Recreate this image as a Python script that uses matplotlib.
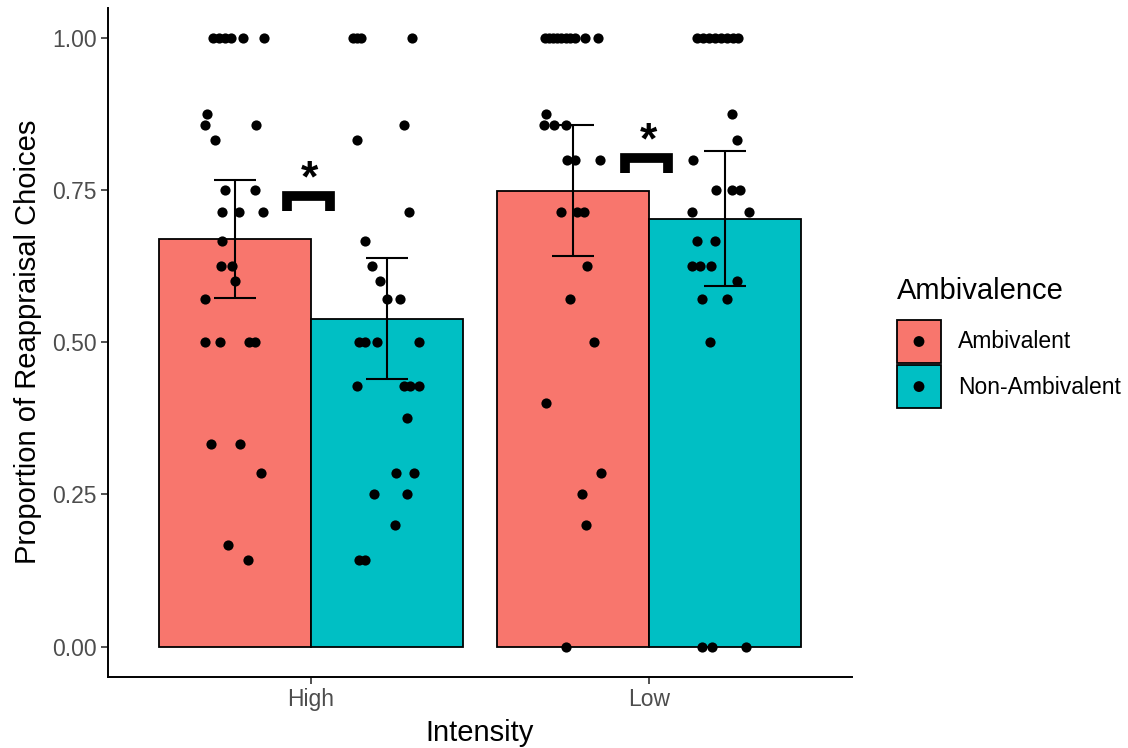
import numpy as np
import matplotlib.pyplot as plt
from matplotlib.patches import Patch, Circle
from matplotlib.legend_handler import HandlerPatch

plt.rcParams['font.family'] = ['Liberation Sans', 'DejaVu Sans']

# DATA
intensity = ['High', 'Low']
groups = ['Ambivalent', 'Non-Ambivalent']
colors = ['#F8766D', '#00BFC4']

# bar means and error bar limits, [High, Low]
mean_amb = [0.669, 0.748]
mean_non = [0.539, 0.702]
lo_amb = [0.573, 0.641]
hi_amb = [0.767, 0.857]
lo_non = [0.440, 0.593]
hi_non = [0.639, 0.814]

# individual participants (value, horizontal jitter as seen in the picture)
high_amb = [1, 1, 1, 1, 1, 1, 0.875, 0.857, 0.857, 0.833, 0.75, 0.75, 0.714, 0.714, 0.714,
            0.667, 0.625, 0.625, 0.6, 0.571, 0.5, 0.5, 0.5, 0.5, 0.333, 0.333, 0.286, 0.167, 0.143]
high_amb_jit = [-0.065, -0.047, -0.030, -0.012, 0.024, 0.086, -0.083, -0.087, 0.063, -0.060, -0.030, 0.061,
                -0.039, 0.012, 0.084, -0.039, -0.042, -0.008, 0.002, -0.087, -0.089, -0.044, 0.041, 0.061,
                -0.070, 0.014, 0.076, -0.020, 0.039]

high_non = [1, 1, 1, 1, 0.857, 0.833, 0.714, 0.667, 0.625, 0.6, 0.571, 0.571, 0.5, 0.5, 0.5, 0.5,
            0.429, 0.429, 0.429, 0.429, 0.375, 0.286, 0.286, 0.25, 0.25, 0.2, 0.143, 0.143]
high_non_jit = [-0.101, -0.089, -0.077, 0.075, 0.050, -0.088, 0.065, -0.066, -0.043, -0.021, -0.001, 0.038,
                -0.083, -0.065, -0.029, 0.095, -0.090, 0.050, 0.068, 0.095, 0.058, 0.026, 0.080, -0.038,
                0.060, 0.023, -0.083, -0.065]

low_amb = [1, 1, 1, 1, 1, 1, 1, 1, 1, 1, 0.875, 0.857, 0.857, 0.857, 0.8, 0.8, 0.8, 0.714, 0.714, 0.714,
           0.625, 0.571, 0.5, 0.4, 0.286, 0.25, 0.2, 0.0]
low_amb_jit = [-0.083, -0.071, -0.059, -0.047, -0.036, -0.021, -0.009, 0.006, 0.036, 0.074, -0.081, -0.086,
               -0.056, -0.020, -0.018, 0.006, 0.079, -0.036, 0.012, 0.033, 0.042, -0.009, 0.062, -0.079,
               0.084, 0.028, 0.038, -0.022]

low_non = [1, 1, 1, 1, 1, 1, 1, 1, 0.875, 0.833, 0.8, 0.75, 0.75, 0.75, 0.714, 0.714, 0.667, 0.667,
           0.625, 0.625, 0.625, 0.6, 0.571, 0.571, 0.5, 0.0, 0.0, 0.0]
low_non_jit = [-0.083, -0.065, -0.047, -0.030, -0.012, 0.006, 0.024, 0.038, 0.019, 0.036, -0.094, -0.026,
               0.021, 0.044, -0.097, 0.071, -0.084, -0.030, -0.098, -0.074, -0.042, 0.035, -0.069, 0.004,
               -0.045, -0.068, -0.038, 0.061]

# significance brackets (top of bracket per intensity)
bracket_top = [0.741, 0.803]

fig = plt.figure(figsize=(11.28, 7.48), dpi=100)
ax = fig.add_axes([108 / 1128, 71 / 748, 744 / 1128, 669.4 / 748])

x = np.arange(1, len(intensity) + 1)
w = 0.45
dodge = [-w / 2, w / 2]
means = [mean_amb, mean_non]
lows = [lo_amb, lo_non]
highs = [hi_amb, hi_non]
pts = [[high_amb, low_amb], [high_non, low_non]]
jits = [[high_amb_jit, low_amb_jit], [high_non_jit, low_non_jit]]

for g in range(2):
    xs = x + dodge[g]
    ax.bar(xs, means[g], width=w, color=colors[g], edgecolor='black', linewidth=1.3, zorder=1)
    for i in range(len(intensity)):
        px = xs[i] + np.array(jits[g][i])
        ax.scatter(px, pts[g][i], s=54, color='black', linewidths=0, zorder=2)
    ax.errorbar(xs, means[g], yerr=[np.array(means[g]) - np.array(lows[g]), np.array(highs[g]) - np.array(means[g])],
                fmt='none', ecolor='black', elinewidth=1.5, capsize=15, capthick=1.5, zorder=3)

# brackets and stars
for i in range(len(intensity)):
    top = bracket_top[i]
    bx = [x[i] - 0.071, x[i] - 0.071, x[i] + 0.057, x[i] + 0.057]
    by = [top - 0.025, top, top, top - 0.025]
    ax.plot(bx, by, color='black', linewidth=7, solid_capstyle='butt', solid_joinstyle='miter', zorder=3)
    ax.text(x[i] - 0.003, top + 0.007, '*', ha='center', va='baseline', fontsize=32, fontweight='bold', zorder=3)

ax.set_xlim(0.4, 2.6)
ax.set_ylim(-0.05, 1.05)
ax.set_xticks(x)
ax.set_xticklabels(intensity)
ax.set_yticks([0, 0.25, 0.5, 0.75, 1.0])
ax.set_yticklabels(['0.00', '0.25', '0.50', '0.75', '1.00'])
ax.tick_params(colors='#333333', labelcolor='#4D4D4D', labelsize=16.5, length=5, width=1.2, pad=3)
for s in ['top', 'right']:
    ax.spines[s].set_visible(False)
for s in ['left', 'bottom']:
    ax.spines[s].set_linewidth(1.4)

fig.text(480 / 1128, 1 - 733 / 748, 'Intensity', ha='center', va='center', fontsize=21)
fig.text(28 / 1128, 1 - 342 / 748, 'Proportion of Reappraisal Choices', ha='center', va='center',
         rotation=90, fontsize=21)


# legend: coloured square key with a black dot in its middle
def centre_dot(legend, orig_handle, xdescent, ydescent, width, height, fontsize):
    return Circle((width / 2 - xdescent, height / 2 - ydescent), 3.9)


dots = [Patch(facecolor='black', edgecolor='none') for g in range(2)]
handles = [(Patch(facecolor=colors[g], edgecolor='black', linewidth=1.3), dots[g]) for g in range(2)]
fig.legend(handles, groups, loc='upper left', bbox_to_anchor=(897 / 1128, 1 - 320 / 748), frameon=False,
           fontsize=16.5, borderpad=0, borderaxespad=0, handlelength=1.92, handleheight=2.51,
           handletextpad=0.74, labelspacing=0.09,
           handler_map={d: HandlerPatch(patch_func=centre_dot) for d in dots})
fig.text(897 / 1128, 1 - 291 / 748, 'Ambivalence', ha='left', va='center', fontsize=21)

fig.savefig('out.png', dpi=100)
